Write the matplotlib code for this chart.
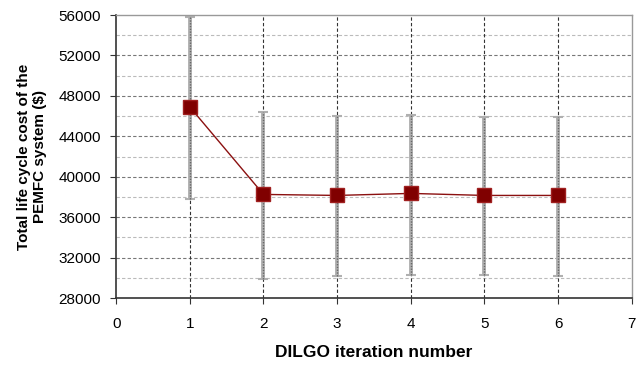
import matplotlib
matplotlib.use("Agg")
import matplotlib.pyplot as plt

plt.rcParams["font.family"] = ["Liberation Sans", "DejaVu Sans"]

iterations = [1, 2, 3, 4, 5, 6]
cost_mean = [46900, 38250, 38150, 38350, 38150, 38150]
cost_upper = [55800, 46400, 46000, 46100, 45900, 45900]
cost_lower = [37800, 29900, 30200, 30300, 30300, 30200]

err_low = [m - l for m, l in zip(cost_mean, cost_lower)]
err_high = [u - m for m, u in zip(cost_mean, cost_upper)]

fig = plt.figure(figsize=(6.42, 3.67), dpi=100)
ax = fig.add_axes([0.181, 0.188, 0.803, 0.771])

# grid: major dashed darker, minor dashed lighter
for yv in range(30000, 56000, 2000):
    if yv % 4000 == 0:
        ax.axhline(yv, color="#777777", lw=0.8, ls=(0, (3, 2)), zorder=0)
    else:
        ax.axhline(yv, color="#bbbbbb", lw=0.8, ls=(0, (3, 2)), zorder=0)
for xv in iterations:
    ax.axvline(xv, color="#333333", lw=0.8, ls=(0, (3, 2)), zorder=0)

# error bars: light gray band with dotted texture
ax.errorbar(iterations, cost_mean, yerr=[err_low, err_high], fmt="none",
            ecolor="#b0b0b0", elinewidth=2.8, capsize=3.5, capthick=1.5, zorder=2)
eb = ax.errorbar(iterations, cost_mean, yerr=[err_low, err_high], fmt="none",
                 ecolor="#666666", elinewidth=1.0, capsize=0, zorder=2)
eb[2][0].set_linestyle((0, (1, 1)))

ax.plot(iterations, cost_mean, color="#8b1010", lw=1.0, marker="s", markersize=10,
        markerfacecolor="#800000", markeredgecolor="#a02020", zorder=3)

ax.set_xlim(0, 7)
ax.set_ylim(28000, 56000)
ax.set_xticks(range(0, 8))
ax.set_yticks(range(28000, 56001, 4000))
ax.tick_params(axis="both", direction="out", labelsize=11, length=4, color="#333333")
ax.tick_params(axis="x", pad=10)
ax.tick_params(axis="y", pad=7)

for s in ["left", "bottom"]:
    ax.spines[s].set_color("#333333")
    ax.spines[s].set_linewidth(1.2)
for s in ["top", "right"]:
    ax.spines[s].set_color("#999999")
    ax.spines[s].set_linewidth(1.0)

ax.set_xlabel("DILGO iteration number", fontsize=12.5, fontweight="bold", labelpad=10)
ax.set_ylabel("Total life cycle cost of the\nPEMFC system ($)", fontsize=11,
              fontweight="bold", labelpad=8)

fig.savefig("out.png", dpi=100)
